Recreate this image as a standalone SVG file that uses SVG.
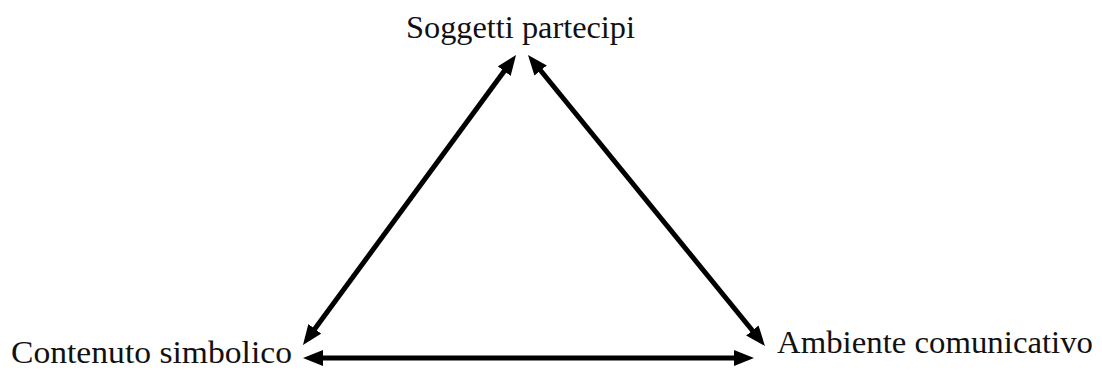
<svg xmlns="http://www.w3.org/2000/svg" width="1102" height="370" viewBox="0 0 1102 370">
<style>
.lbl{font-family:"Liberation Serif","DejaVu Serif",serif;font-size:32px;fill:#111;}
.conn{stroke:#000;stroke-width:5;fill:none;marker-start:url(#ah);marker-end:url(#ah);}
</style>
<defs>
<marker id="ah" viewBox="0 0 20 16" markerWidth="20" markerHeight="16" refX="11" refY="8" orient="auto-start-reverse" markerUnits="userSpaceOnUse">
<path d="M0,0 L20,8 L0,16 z" fill="#000"/>
</marker>
</defs>
<rect width="1102" height="370" fill="#fff"/>
<g id="connectors">
<line class="conn" x1="510.7" y1="62.3" x2="308.3" y2="337.7"/>
<line class="conn" x1="533.7" y1="62" x2="759.3" y2="339"/>
<line class="conn" x1="312" y1="358" x2="745" y2="358"/>
</g>
<g id="soggetti">
<text class="lbl" x="406" y="38" textLength="229" lengthAdjust="spacingAndGlyphs">Soggetti partecipi</text>
</g>
<g id="contenuto">
<text class="lbl" x="11" y="363" textLength="281" lengthAdjust="spacingAndGlyphs">Contenuto simbolico</text>
</g>
<g id="ambiente">
<text class="lbl" x="777" y="353" textLength="316" lengthAdjust="spacingAndGlyphs">Ambiente comunicativo</text>
</g>
</svg>
